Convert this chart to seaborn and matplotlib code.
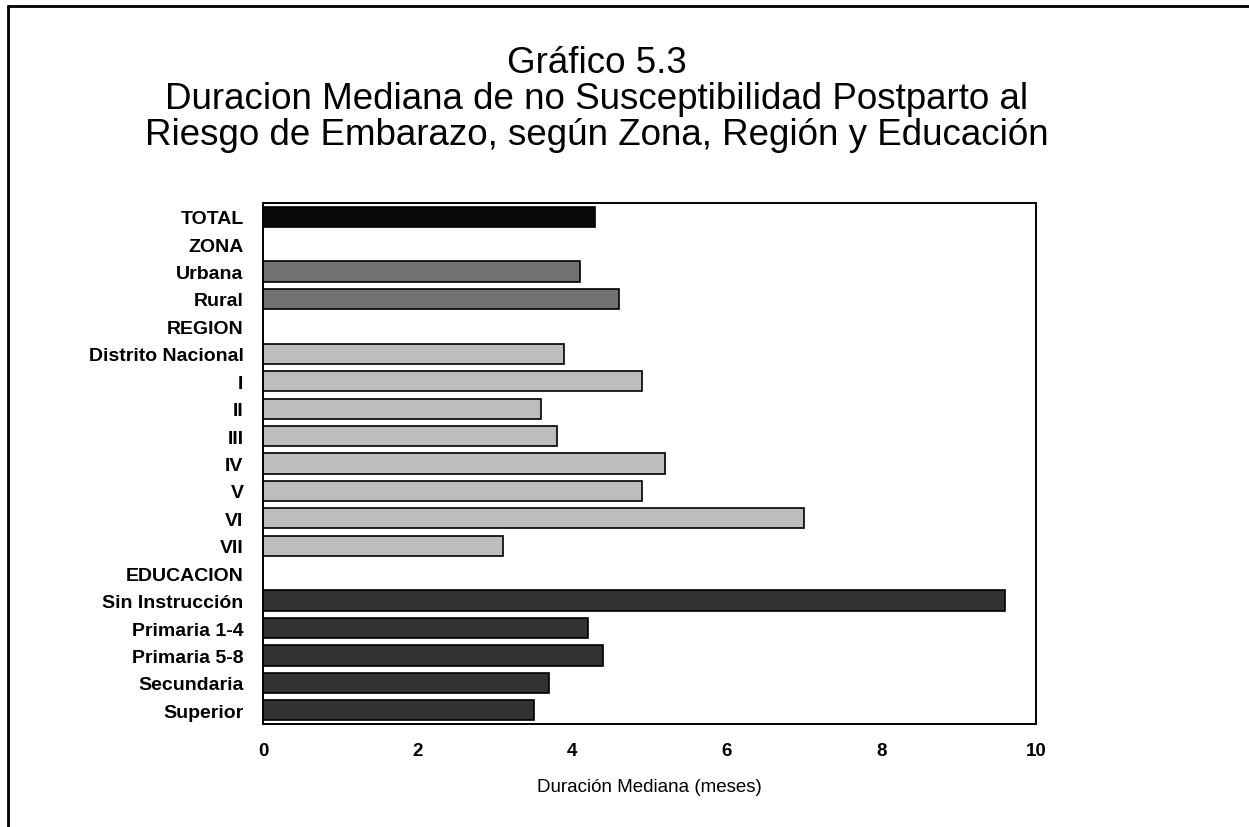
import matplotlib
matplotlib.use("Agg")
import matplotlib.pyplot as plt
from matplotlib.lines import Line2D
import seaborn as sns
import pandas as pd
import numpy as np

# ---- data ----
categorias = ["TOTAL", "ZONA", "Urbana", "Rural", "REGION", "Distrito Nacional",
              "I", "II", "III", "IV", "V", "VI", "VII", "EDUCACION",
              "Sin Instrucción", "Primaria 1-4", "Primaria 5-8", "Secundaria", "Superior"]
valores = [4.3, None, 4.1, 4.6, None, 3.9,
           4.9, 3.6, 3.8, 5.2, 4.9, 7.0, 3.1, None,
           9.6, 4.2, 4.4, 3.7, 3.5]
grupos = ["Total", None, "Zona", "Zona", None, "Region",
          "Region", "Region", "Region", "Region", "Region", "Region", "Region", None,
          "Educacion", "Educacion", "Educacion", "Educacion", "Educacion"]
colores_grupo = {"Total": "#0a0a0a", "Zona": "#727272",
                 "Region": "#bdbdbd", "Educacion": "#323232"}
xticks = [0, 2, 4, 6, 8, 10]
titulo = ["Gráfico 5.3",
          "Duracion Mediana de no Susceptibilidad Postparto al",
          "Riesgo de Embarazo, según Zona, Región y Educación"]
xlabel = "Duración Mediana (meses)"

df = pd.DataFrame({"categoria": categorias, "valor": valores, "grupo": grupos}).dropna()

sns.set_theme(style="white")
plt.rcParams["font.family"] = ["Liberation Sans", "DejaVu Sans"]

W, H = 1249, 828
fig = plt.figure(figsize=(W / 100, H / 100), dpi=100)
ax = fig.add_axes([263 / W, 1 - 725 / H, (1036 - 263) / W, (725 - 204) / H])

sns.barplot(data=df, x="valor", y="categoria", hue="grupo", order=categorias,
            hue_order=list(colores_grupo.keys()), palette=colores_grupo,
            dodge=False, width=0.74, edgecolor="black", linewidth=1.2,
            legend=False, ax=ax, orient="h")

ax.set_xlim(0, 10)
ax.set_ylim(len(categorias) - 0.5, -0.5)
ax.set_xticks(xticks)
ax.set_xticklabels([str(t) for t in xticks], fontsize=13.5, fontweight="bold")
ax.set_yticks(range(len(categorias)))
ax.set_yticklabels(categorias, fontsize=14, fontweight="bold")
ax.tick_params(axis="both", length=0, colors="black")
ax.tick_params(axis="y", pad=14)
ax.tick_params(axis="x", pad=13)
ax.set_ylabel("")
ax.set_xlabel(xlabel, fontsize=13.5, labelpad=14, color="black")
for s in ax.spines.values():
    s.set_visible(True)
    s.set_color("black")
    s.set_linewidth(1.4)
ax.grid(False)

# title lines
for txt, base in zip(titulo, [73, 109, 145]):
    fig.text(597 / W, 1 - base / H, txt, ha="center", va="baseline",
             fontsize=26.5, color="black")

# page frame
xl, yt = 8 / W, 1 - 7 / H
fig.add_artist(Line2D([xl, xl], [0, yt], transform=fig.transFigure, color="black", lw=2))
fig.add_artist(Line2D([xl, 1], [yt, yt], transform=fig.transFigure, color="black", lw=2))

fig.savefig("out.png", dpi=100, facecolor="white")
